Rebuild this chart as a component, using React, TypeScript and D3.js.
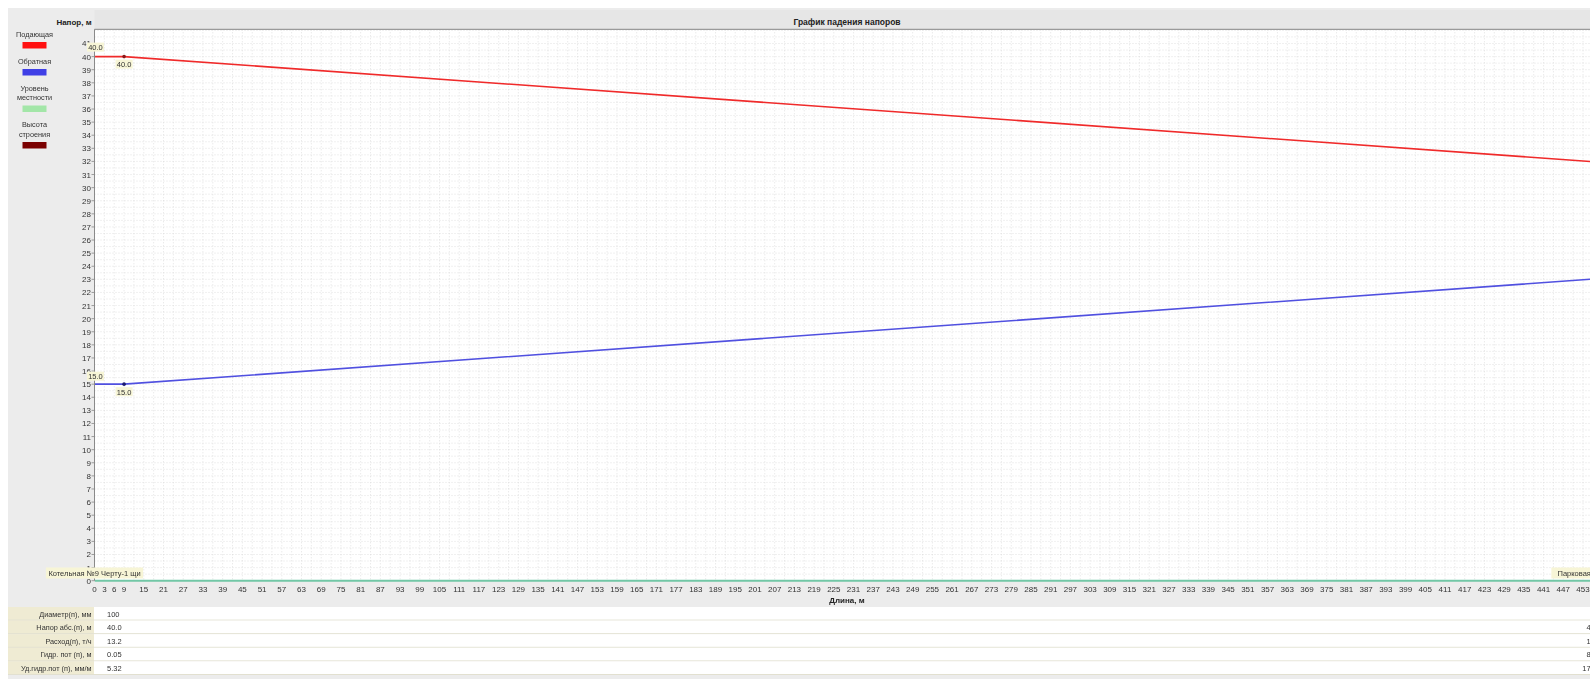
import React from "react";
import * as d3 from "d3";

// ---- data ----
const nodeLengths = [0, 9, 460];
const supplyHead = [40.0, 40.0, 31.91];
const returnHead = [15.0, 15.0, 23.09];
const groundLevel = [0, 0, 0];
const nodeNames = ["Котельная №9 Черту-1 щи", "", "Парковая,2 ж.д. Черту-1 щи"];

const xTickValues = [0, 3, 6, 9, ...d3.range(15, 460, 6)];
const yTickValues = d3.range(0, 42);

const legendItems = [
  { lines: ["Подающая"], color: "#ff1010" },
  { lines: ["Обратная"], color: "#3f3fe6" },
  { lines: ["Уровень", "местности"], color: "#a3e6a8" },
  { lines: ["Высота", "строения"], color: "#7a0000" },
];

const tableLabels = [
  "Диаметр(п), мм",
  "Напор абс.(п), м",
  "Расход(п), т/ч",
  "Гидр. пот (п), м",
  "Уд.гидр.пот (п), мм/м",
];
const tableFirst = ["100", "40.0", "13.2", "0.05", "5.32"];
const tableLast = ["", "40.0", "13.2", "8.09", "17.94"];

const W = 1590;
const H = 679;
const FONT = "'Liberation Sans', Arial, sans-serif";

export default function App() {
  const plotLeft = 94.5;
  const plotTop = 29.3;
  const plotBottom = 580.7;
  const x = d3.scaleLinear().domain([0, 453]).range([plotLeft, 1583]);
  const y = d3.scaleLinear().domain([0, 40]).range([plotBottom, 56.6]);

  const lineGen = d3
    .line<[number, number]>()
    .x((d) => x(d[0]))
    .y((d) => y(d[1]));

  const supplyPts = nodeLengths.map((l, i) => [l, supplyHead[i]] as [number, number]);
  const returnPts = nodeLengths.map((l, i) => [l, returnHead[i]] as [number, number]);
  const groundPts = nodeLengths.map((l, i) => [l, groundLevel[i]] as [number, number]);

  const vGrid = d3.range(0, 480, 3);
  const hGrid = d3.range(0, 42.5, 0.5);

  const rowH = 13.6;
  const tableTop = 607;

  const valueLabel = (cx: number, cy: number, text: string, key: string) => {
    const w = 17;
    const h = 9;
    return (
      <g key={key}>
        <rect x={cx - w / 2} y={cy - h / 2} width={w} height={h} fill="#f7f5d6" />
        <text x={cx} y={cy + 3} fontSize={7.5} textAnchor="middle" fill="#333" fontFamily={FONT}>
          {text}
        </text>
      </g>
    );
  };

  return (
    <svg
      width={W}
      height={H}
      style={{ display: "block", position: "fixed", left: 0, top: 0, overflow: "hidden" }}
    >
      <rect x={0} y={0} width={W} height={H} fill="#ffffff" />
      {/* background */}
      <rect x={8} y={8} width={W} height={H} fill="#ececec" />
      {/* title bar */}
      <rect x={plotLeft} y={10} width={W} height={plotTop - 10} fill="#e6e6e6" />
      <text x={847} y={24.5} fontSize={8.5} fontWeight="bold" textAnchor="middle" fill="#222" fontFamily={FONT}>
        График падения напоров
      </text>
      <text x={74} y={24.5} fontSize={8} fontWeight="bold" textAnchor="middle" fill="#222" fontFamily={FONT}>
        Напор, м
      </text>

      {/* plot area */}
      <rect x={plotLeft} y={plotTop} width={W} height={plotBottom - plotTop} fill="#ffffff" />
      <defs>
        <clipPath id="plotClip">
          <rect x={plotLeft} y={plotTop} width={W} height={plotBottom - plotTop + 2} />
        </clipPath>
      </defs>
      <g clipPath="url(#plotClip)">
        {vGrid.map((v) => (
          <line key={"v" + v} x1={x(v)} x2={x(v)} y1={plotTop} y2={plotBottom} stroke="#d6d6d6" strokeWidth={0.7} strokeDasharray="1,2" />
        ))}
        {hGrid.map((v) => (
          <line key={"h" + v} x1={plotLeft} x2={W} y1={y(v)} y2={y(v)} stroke="#d6d6d6" strokeWidth={0.7} strokeDasharray="1,2" />
        ))}
        <path d={lineGen(groundPts) || ""} fill="none" stroke="#72c7a6" strokeWidth={2} />
        <path d={lineGen(supplyPts) || ""} fill="none" stroke="#f02a2a" strokeWidth={1.6} />
        <path d={lineGen(returnPts) || ""} fill="none" stroke="#5050e0" strokeWidth={1.6} />
      </g>
      {/* plot borders */}
      <line x1={plotLeft} x2={W} y1={plotTop} y2={plotTop} stroke="#9a9a9a" strokeWidth={1.2} />
      <line x1={plotLeft} x2={plotLeft} y1={plotTop} y2={plotBottom} stroke="#8a8a8a" strokeWidth={1} />

      {/* y ticks */}
      {yTickValues.map((v) => (
        <g key={"yt" + v}>
          <line x1={plotLeft - 3} x2={plotLeft} y1={y(v)} y2={y(v)} stroke="#888" strokeWidth={0.8} />
          <text x={91} y={y(v) + 3} fontSize={8} textAnchor="end" fill="#333" fontFamily={FONT}>
            {v}
          </text>
        </g>
      ))}

      {/* x ticks */}
      {xTickValues.map((v) => (
        <text key={"xt" + v} x={x(v)} y={591.5} fontSize={8} textAnchor="middle" fill="#333" fontFamily={FONT}>
          {v}
        </text>
      ))}
      <text x={847} y={603} fontSize={8} fontWeight="bold" textAnchor="middle" fill="#222" fontFamily={FONT}>
        Длина, м
      </text>

      {/* markers at intermediate node */}
      <circle cx={x(nodeLengths[1])} cy={y(supplyHead[1])} r={1.8} fill="#8a1a1a" />
      <circle cx={x(nodeLengths[1])} cy={y(returnHead[1])} r={1.8} fill="#1a1a70" />

      {/* value labels */}
      {valueLabel(x(nodeLengths[0]) + 1, y(supplyHead[0]) - 9.5, supplyHead[0].toFixed(1), "s0")}
      {valueLabel(x(nodeLengths[1]), y(supplyHead[1]) + 7.5, supplyHead[1].toFixed(1), "s1")}
      {valueLabel(x(nodeLengths[0]) + 1, y(returnHead[0]) - 8, returnHead[0].toFixed(1), "r0")}
      {valueLabel(x(nodeLengths[1]), y(returnHead[1]) + 7.5, returnHead[1].toFixed(1), "r1")}

      {/* node name labels */}
      {nodeNames.map((name, i) => {
        if (!name) return null;
        const w = name.length * 4.05 + 4;
        const cx = x(nodeLengths[i]);
        return (
          <g key={"nn" + i}>
            <rect x={cx - w / 2} y={567.5} width={w} height={11} fill="#f7f5d6" />
            <text x={cx} y={576} fontSize={7.5} textAnchor="middle" fill="#333" fontFamily={FONT}>
              {name}
            </text>
          </g>
        );
      })}

      {/* legend */}
      {(() => {
        let cy = 34;
        const out: any[] = [];
        legendItems.forEach((item, i) => {
          item.lines.forEach((ln, j) => {
            out.push(
              <text key={`lg${i}-${j}`} x={34.5} y={cy + 2.5} fontSize={7.3} textAnchor="middle" fill="#333" fontFamily={FONT}>
                {ln}
              </text>
            );
            cy += 9.5;
          });
          out.push(<rect key={`lr${i}`} x={22.5} y={cy - 1.5} width={24} height={6.5} fill={item.color} />);
          cy += 17.5;
        });
        return out;
      })()}

      {/* table */}
      {tableLabels.map((lab, i) => {
        const ry = tableTop + i * rowH;
        return (
          <g key={"tr" + i}>
            <rect x={8} y={ry} width={86} height={rowH} fill="#efebd3" />
            <rect x={94} y={ry} width={W} height={rowH} fill="#ffffff" />
            <line x1={8} x2={W} y1={ry + rowH - 0.5} y2={ry + rowH - 0.5} stroke="#e2e0d0" strokeWidth={1} />
            <text x={91.5} y={ry + 9.5} fontSize={7.3} textAnchor="end" fill="#333" fontFamily={FONT}>
              {lab}
            </text>
            <text x={107} y={ry + 9.5} fontSize={7.5} textAnchor="start" fill="#333" fontFamily={FONT}>
              {tableFirst[i]}
            </text>
            <text x={1601} y={ry + 9.5} fontSize={7.5} textAnchor="end" fill="#333" fontFamily={FONT}>
              {tableLast[i]}
            </text>
          </g>
        );
      })}
    </svg>
  );
}
